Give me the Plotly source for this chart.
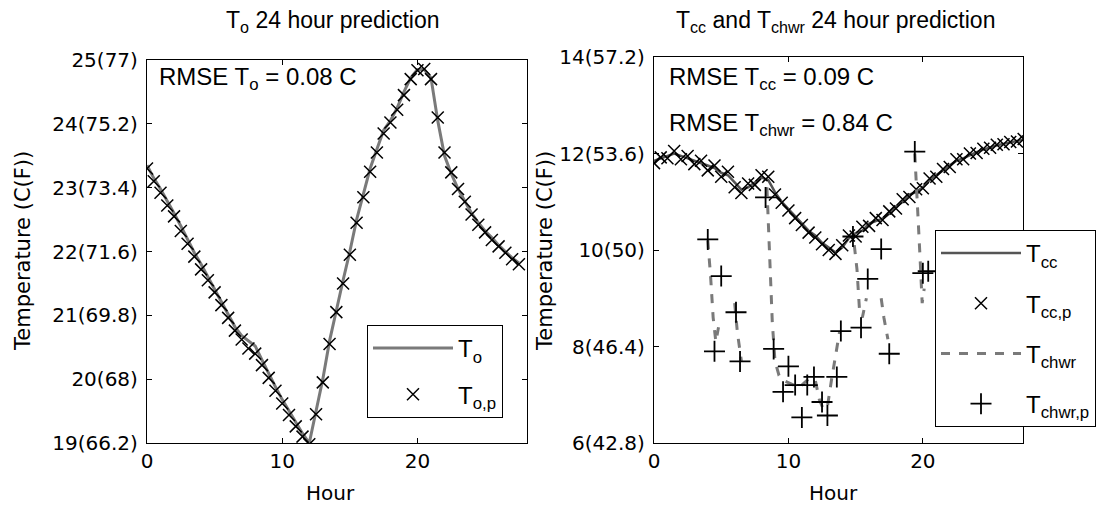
import plotly.graph_objects as go

W, H = 1118, 506
OFF = 8  # page body margin of the written html

# ---------------- data ----------------
hours = [i * 0.5 for i in range(56)]  # 0 .. 27.5 h

T_o = [23.35, 23.15, 22.98, 22.80, 22.60, 22.40, 22.18, 21.98, 21.80, 21.60,
       21.42, 21.22, 21.02, 20.82, 20.68, 20.60, 20.52, 20.30, 20.08, 19.88,
       19.68, 19.50, 19.32, 19.15, 19.00, 19.50, 20.00, 20.60, 21.10, 21.55,
       22.00, 22.50, 22.90, 23.30, 23.60, 23.90, 24.05, 24.25, 24.50, 24.72,
       24.85, 24.85, 24.72, 24.05, 23.50, 23.22, 22.98, 22.80, 22.60, 22.45,
       22.32, 22.22, 22.10, 22.00, 21.90, 21.82]

T_o_p = [23.30, 23.10, 22.92, 22.72, 22.55, 22.32, 22.12, 21.92, 21.72, 21.55,
         21.36, 21.16, 20.96, 20.76, 20.62, 20.48, 20.40, 20.22, 20.02, 19.82,
         19.62, 19.44, 19.26, 19.10, 18.98, 19.45, 19.95, 20.55, 21.05, 21.50,
         21.95, 22.45, 22.85, 23.25, 23.55, 23.85, 24.02, 24.22, 24.45, 24.70,
         24.84, 24.86, 24.70, 24.10, 23.55, 23.24, 22.98, 22.78, 22.58, 22.42,
         22.30, 22.18, 22.08, 21.98, 21.88, 21.80]

T_cc = [11.85, 11.90, 11.95, 12.00, 11.95, 11.90, 11.85, 11.80, 11.75, 11.70,
        11.60, 11.55, 11.40, 11.25, 11.30, 11.40, 11.50, 11.45, 11.20, 11.00,
        10.85, 10.70, 10.55, 10.40, 10.30, 10.15, 10.05, 9.95, 10.05, 10.25,
        10.35, 10.40, 10.55, 10.60, 10.65, 10.75, 10.90, 11.00, 11.15, 11.20,
        11.30, 11.45, 11.55, 11.65, 11.75, 11.85, 11.90, 11.97, 12.03, 12.08,
        12.13, 12.17, 12.20, 12.23, 12.26, 12.29]

T_cc_p = [11.80, 11.92, 11.90, 12.05, 11.88, 11.95, 11.78, 11.85, 11.65, 11.75,
          11.52, 11.62, 11.30, 11.18, 11.38, 11.35, 11.55, 11.52, 11.15, 10.98,
          10.82, 10.66, 10.52, 10.36, 10.26, 10.12, 10.00, 9.92, 10.10, 10.30,
          10.28, 10.48, 10.50, 10.66, 10.62, 10.80, 10.86, 11.05, 11.10, 11.26,
          11.28, 11.48, 11.52, 11.68, 11.72, 11.88, 11.88, 12.00, 12.01, 12.10,
          12.12, 12.18, 12.19, 12.24, 12.25, 12.30]

chwr_t = [4.0, 4.2, 4.4, 4.6, 4.8, None, 6.0, 6.2, 6.5, None,
          8.4, 8.6, 8.8, 9.0, 9.3, 9.6, 10.0, 10.4, 10.8, 11.2, 11.6, 12.0,
          12.3, 12.6, 12.9, 13.2, 13.5, 13.8, None,
          14.9, 15.1, 15.3, 15.5, 15.8, None, 16.9, 17.1, 17.4, None,
          19.4, 19.6, 19.8, 19.95, 20.1]
chwr_v = [10.2, 9.5, 8.6, 8.1, 8.4, None, 8.9, 8.3, 7.7, None,
          11.3, 10.0, 8.5, 7.7, 7.4, 7.3, 7.25, 7.2, 7.15, 7.25, 7.35, 7.3,
          6.9, 6.7, 6.75, 7.3, 7.8, 8.3, None,
          10.1, 9.6, 8.7, 8.6, 9.0, None, 9.0, 8.6, 8.15, None,
          12.0, 11.0, 9.8, 8.9, 9.2]

chwr_p_t = [4.0, 4.5, 5.0, 6.1, 6.4, 8.3, 8.9, 9.6, 10.0, 10.5, 11.0, 11.4,
            11.9, 12.5, 12.9, 13.6, 13.9, 14.8, 15.4, 15.9, 16.9, 17.5,
            19.4, 20.0, 20.4]
chwr_p_v = [10.22, 7.90, 9.46, 8.71, 7.69, 11.09, 7.95, 7.06, 7.59, 7.20,
            6.53, 7.20, 7.37, 6.85, 6.57, 7.37, 8.32, 10.28, 8.39, 9.40,
            10.02, 7.85, 12.04, 9.52, 9.56]

left_tickvals = [19, 20, 21, 22, 23, 24, 25]
left_ticktext = ["19(66.2)", "20(68)", "21(69.8)", "22(71.6)", "23(73.4)",
                 "24(75.2)", "25(77)"]
right_tickvals = [6, 8, 10, 12, 14]
right_ticktext = ["6(42.8)", "8(46.4)", "10(50)", "12(53.6)", "14(57.2)"]
x_tickvals = [0, 10, 20]

# ---------------- styles ----------------
GRAY = "#7a7a7a"
TICKFONT = dict(family="DejaVu Sans", size=20, color="black")
TXT = "Liberation Sans"


def px(x):
    return (x - OFF) / W


def py(y):
    return 1 - (y - OFF) / H


fig = go.Figure()

fig.add_trace(go.Scatter(x=hours, y=T_o, mode="lines", name="T<sub>o</sub>",
                         line=dict(color=GRAY, width=3), xaxis="x", yaxis="y",
                         legend="legend", legendgroup="a"))
fig.add_trace(go.Scatter(x=hours, y=T_o_p, mode="markers", name="T<sub>o,p</sub>",
                         marker=dict(symbol="x-thin-open", size=12, color="black",
                                     line=dict(width=1.5, color="black")),
                         xaxis="x", yaxis="y", legend="legend", legendgroup="b"))

fig.add_trace(go.Scatter(x=hours, y=T_cc, mode="lines", name="T<sub>cc</sub>",
                         line=dict(color="#555555", width=2.5), xaxis="x2", yaxis="y2",
                         legend="legend2", legendgroup="c"))
fig.add_trace(go.Scatter(x=hours, y=T_cc_p, mode="markers", name="T<sub>cc,p</sub>",
                         marker=dict(symbol="x-thin-open", size=12, color="black",
                                     line=dict(width=1.5, color="black")),
                         xaxis="x2", yaxis="y2", legend="legend2", legendgroup="d"))
fig.add_trace(go.Scatter(x=chwr_t, y=chwr_v, mode="lines", name="T<sub>chwr</sub>",
                         line=dict(color=GRAY, width=3, dash="dash"),
                         connectgaps=False, xaxis="x2", yaxis="y2",
                         legend="legend2", legendgroup="e"))
fig.add_trace(go.Scatter(x=chwr_p_t, y=chwr_p_v, mode="markers", name="T<sub>chwr,p</sub>",
                         marker=dict(symbol="cross-thin-open", size=15, color="black",
                                     line=dict(width=1.8, color="black")),
                         xaxis="x2", yaxis="y2", legend="legend2", legendgroup="f"))

axis_common = dict(showline=True, linecolor="black", linewidth=1.2, mirror="allticks",
                   ticks="inside", ticklen=5, tickcolor="black", tickwidth=1,
                   showgrid=False, zeroline=False, tickfont=TICKFONT, automargin=False)

fig.update_layout(
    width=W, height=H,
    margin=dict(l=0, r=0, t=0, b=0, autoexpand=False),
    paper_bgcolor="white", plot_bgcolor="white",
    xaxis=dict(domain=[px(147), px(527)], range=[0, 28.1], tickvals=x_tickvals,
               anchor="y", **axis_common),
    yaxis=dict(domain=[py(443), py(60)], range=[19, 25], tickvals=left_tickvals,
               ticktext=left_ticktext, anchor="x", ticklabelstandoff=4, **axis_common),
    xaxis2=dict(domain=[px(654), px(1023)], range=[0, 27.45], tickvals=x_tickvals,
                anchor="y2", **axis_common),
    yaxis2=dict(domain=[py(443), py(57)], range=[6, 14], tickvals=right_tickvals,
                ticktext=right_ticktext, anchor="x2", ticklabelstandoff=4, **axis_common),
    legend=dict(x=px(367), y=py(325), xanchor="left", yanchor="top",
                bgcolor="white", bordercolor="black", borderwidth=1,
                font=dict(family=TXT, size=24, color="black"),
                traceorder="grouped", tracegroupgap=12, itemwidth=80),
    legend2=dict(x=px(935), y=py(230), xanchor="left", yanchor="top",
                 bgcolor="white", bordercolor="black", borderwidth=1,
                 font=dict(family=TXT, size=24, color="black"),
                 traceorder="grouped", tracegroupgap=16, itemwidth=80),
    showlegend=True,
)

ann = []
# titles
ann.append(dict(text="T<sub>o</sub> 24 hour prediction", x=px(333), y=py(22),
                font=dict(family=TXT, size=23)))
ann.append(dict(text="T<sub>cc</sub> and T<sub>chwr</sub> 24 hour prediction", x=px(835), y=py(22),
                font=dict(family=TXT, size=23)))
# axis titles
ann.append(dict(text="Hour", x=px(330), y=py(493), font=dict(family="DejaVu Sans", size=20)))
ann.append(dict(text="Hour", x=px(833), y=py(493), font=dict(family="DejaVu Sans", size=20)))
ann.append(dict(text="Temperature (C(F))", x=px(23), y=py(251), textangle=-90,
                font=dict(family="DejaVu Sans", size=21)))
ann.append(dict(text="Temperature (C(F))", x=px(545), y=py(251), textangle=-90,
                font=dict(family="DejaVu Sans", size=21)))
# RMSE text
ann.append(dict(text="RMSE T<sub>o</sub> = 0.08 C", x=px(157), y=py(79), xanchor="left",
                font=dict(family=TXT, size=24)))
ann.append(dict(text="RMSE T<sub>cc</sub> = 0.09 C", x=px(667), y=py(79), xanchor="left",
                font=dict(family=TXT, size=24)))
ann.append(dict(text="RMSE T<sub>chwr</sub> = 0.84 C", x=px(667), y=py(124), xanchor="left",
                font=dict(family=TXT, size=24)))

for a in ann:
    a.setdefault("xanchor", "center")
    a.update(xref="paper", yref="paper", yanchor="middle", showarrow=False)
    a["font"].setdefault("color", "black")
fig.update_layout(annotations=ann)

fig.write_html("out.html")
